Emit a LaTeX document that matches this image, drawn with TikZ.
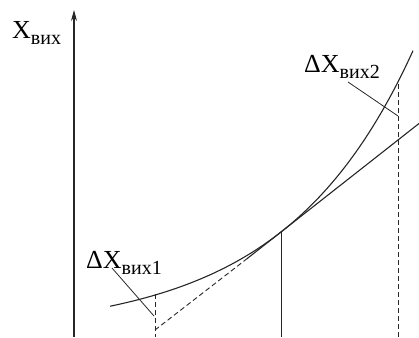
\documentclass[tikz,border=0pt]{standalone}
\usepackage{fontspec}
\setmainfont{Liberation Serif}
\usetikzlibrary{arrows.meta}
\newcommand{\lbl}[2]{{\fontsize{26}{26}\selectfont #1}\raisebox{-6pt}{\fontsize{20}{20}\selectfont #2}}
\begin{document}
\begin{tikzpicture}[x=1pt,y=-1pt,
  ln/.style={line width=1.1pt,black!85},
  thin/.style={line width=0.8pt,black!85},
  dsh/.style={line width=0.9pt,black!85,dash pattern=on 5pt off 3pt},
  txt/.style={inner sep=0pt,anchor=base west}]
\useasboundingbox (0,0) rectangle (419,337);
% axis
\coordinate (a0) at (74,337);
\coordinate (a1) at (74,10);
\draw[ln,-{Stealth[length=11pt,width=6pt]}] (a0) -- (a1);
\node[txt] (ly) at (12,38) {\lbl{X}{вих}};
% curve
\draw[ln,domain=110:413,samples=80,smooth] plot (\x,{232-100.8*(exp(0.0078*(\x-281))-1)});
% tangent
\coordinate (t0) at (155,330);
\coordinate (t1) at (247,258.7);
\coordinate (t2) at (419,123.5);
\draw[dsh] (t0) -- (t1);
\draw[ln] (t1) -- (t2);
% solid vertical at tangency
\coordinate (p0) at (281,232);
\coordinate (p1) at (281,337);
\draw[thin] (p0) -- (p1);
% dashed verticals
\coordinate (d1a) at (155,294);
\coordinate (d1b) at (155,337);
\draw[dsh] (d1a) -- (d1b);
\coordinate (d2a) at (398,84);
\coordinate (d2b) at (398,337);
\draw[dsh] (d2a) -- (d2b);
% labels
\node[txt] (l1) at (86,268) {\lbl{ΔX}{вих1}};
\node[txt] (l2) at (304,72) {\lbl{ΔX}{вих2}};
% leader lines
\coordinate (e1a) at (112,268);
\coordinate (e1b) at (154,316);
\draw[thin] (e1a) -- (e1b);
\coordinate (e2a) at (348,82);
\coordinate (e2b) at (398,116);
\draw[thin] (e2a) -- (e2b);
\end{tikzpicture}
\end{document}
